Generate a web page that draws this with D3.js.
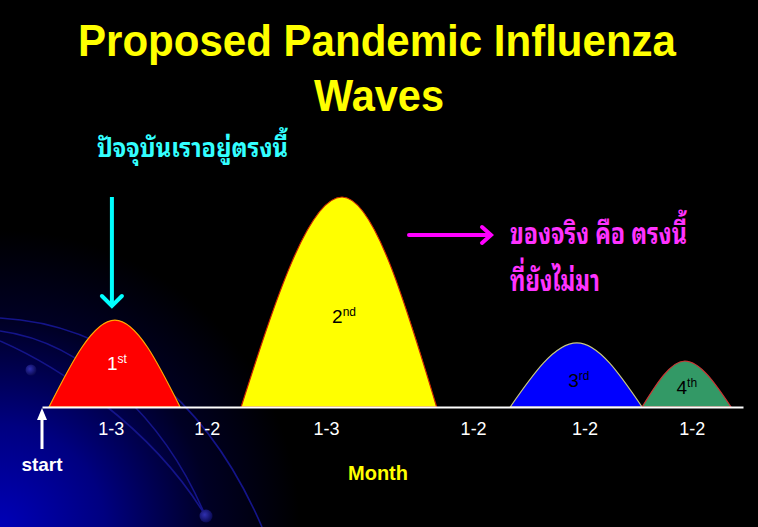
<!DOCTYPE html>
<html>
<head>
<meta charset="utf-8">
<script src="https://cdn.jsdelivr.net/npm/d3@7"></script>
<style>
  html, body { margin: 0; padding: 0; background: #000; }
  svg { display: block; }
</style>
</head>
<body>
<svg id="chart" width="758" height="527"></svg>
<script>
// ---------- data ----------
const waveOrdinals = ["1", "2", "3", "4"];
const waveSuffixes = ["st", "nd", "rd", "th"];
const waveStart  = [1.0, 28.4, 66.8, 85.6];   // timeline units (0-100)
const wavePeak   = [10.4, 42.8, 76.3, 91.7];
const waveEnd    = [19.7, 56.3, 85.6, 98.3];
const waveHeight = [41.4, 100, 30.5, 21.9];   // relative intensity (0-100)
const waveLabelY = [17.6, 40, 9.5, 6.2];

const segmentLabels  = ["1-3", "1-2", "1-3", "1-2", "1-2", "1-2"];
const segmentCenters = [9.8, 23.5, 40.5, 61.5, 77.4, 92.7];

const titleLines = ["Proposed Pandemic Influenza", "Waves"];
const noteNow = "ปัจจุบันเราอยู่ตรงนี้";
const noteReal = ["ของจริง คือ ตรงนี้", "ที่ยังไม่มา"];
const xAxisTitle = "Month";
const startLabel = "start";

// ---------- styles ----------
const waveFill   = ["#ff0000", "#ffff00", "#0000ff", "#339966"];
const waveStroke = ["#ffaa00", "#cc2200", "#c8c880", "#cc3333"];
const waveText   = ["#ffffff", "#000000", "#000000", "#000000"];
const thaiFont = "'Noto Sans Thai Looped', Loma, Garuda, 'Noto Sans Thai', 'Tlwg Typo', 'DejaVu Sans', sans-serif";
const latinFont = "'Liberation Sans', Arial, sans-serif";

const W = 758, H = 527;
const svg = d3.select("#chart");
const defs = svg.append("defs");

// background
const bg = defs.append("radialGradient").attr("id", "bgGrad")
  .attr("gradientUnits", "userSpaceOnUse").attr("cx", 0).attr("cy", 530).attr("r", 300);
bg.append("stop").attr("offset", 0).attr("stop-color", "#0000b8");
bg.append("stop").attr("offset", 0.35).attr("stop-color", "#000080");
bg.append("stop").attr("offset", 0.7).attr("stop-color", "#000024");
bg.append("stop").attr("offset", 1).attr("stop-color", "#000000");
const dotGrad = defs.append("radialGradient").attr("id", "dotGrad").attr("cx", 0.4).attr("cy", 0.4).attr("r", 0.6);
dotGrad.append("stop").attr("offset", 0).attr("stop-color", "#3030b0");
dotGrad.append("stop").attr("offset", 1).attr("stop-color", "#0a0a55");

svg.append("rect").attr("width", W).attr("height", H).attr("fill", "#000");
svg.append("rect").attr("width", W).attr("height", H).attr("fill", "url(#bgGrad)");

// decorative orbits
const orbits = svg.append("g").attr("fill", "none").attr("stroke", "#14148a").attr("stroke-width", 1.6);
orbits.append("path").attr("d", "M0,331 C85,342 165,420 205,515");
orbits.append("path").attr("d", "M0,341 C55,365 150,425 205,515");
orbits.append("path").attr("d", "M0,318 C110,324 205,395 262,527");
svg.append("circle").attr("cx", 31).attr("cy", 370).attr("r", 5.5).attr("fill", "url(#dotGrad)");
svg.append("circle").attr("cx", 206).attr("cy", 516).attr("r", 6.5).attr("fill", "url(#dotGrad)");

// ---------- scales ----------
const x = d3.scaleLinear().domain([0, 100]).range([42, 743]);
const y = d3.scaleLinear().domain([0, 100]).range([407, 197]);

// ---------- title ----------
const title = svg.append("g").attr("font-family", latinFont).attr("font-weight", "bold")
  .attr("font-size", 44).attr("fill", "#ffff00").attr("text-anchor", "middle");
title.append("text").attr("x", 377).attr("y", 56).text(titleLines[0])
  .attr("textLength", 598).attr("lengthAdjust", "spacingAndGlyphs");
title.append("text").attr("x", 379).attr("y", 111).text(titleLines[1])
  .attr("textLength", 130).attr("lengthAdjust", "spacingAndGlyphs");

// ---------- waves ----------
const area = d3.area().x(d => x(d[0])).y0(y(0)).y1(d => y(d[1])).curve(d3.curveMonotoneX);
const waves = waveOrdinals.map((o, i) => ({
  i,
  pts: [[waveStart[i], 0], [wavePeak[i], waveHeight[i]], [waveEnd[i], 0]]
}));
svg.append("g").selectAll("path").data(waves).join("path")
  .attr("d", d => area(d.pts))
  .attr("fill", d => waveFill[d.i])
  .attr("stroke", d => waveStroke[d.i])
  .attr("stroke-width", 1.2);

const labels = svg.append("g").attr("font-family", latinFont).attr("text-anchor", "middle");
waves.forEach(d => {
  const t = labels.append("text")
    .attr("x", x(wavePeak[d.i]) + 2)
    .attr("y", y(waveLabelY[d.i]))
    .attr("fill", waveText[d.i]);
  t.append("tspan").attr("font-size", 19).text(waveOrdinals[d.i]);
  t.append("tspan").attr("font-size", 12).attr("dy", -7).text(waveSuffixes[d.i]);
});

// ---------- axis ----------
const axis = d3.axisBottom(x)
  .tickValues(segmentCenters)
  .tickFormat((d, i) => segmentLabels[i])
  .tickSize(0).tickSizeOuter(0).tickPadding(15);
const gAxis = svg.append("g").attr("transform", `translate(0,${y(0)})`).call(axis);
gAxis.select(".domain").attr("stroke", "#ffffff").attr("stroke-width", 2);
gAxis.selectAll("text").attr("fill", "#ffffff").attr("font-size", 18).attr("font-family", latinFont);

svg.append("text").attr("x", 378).attr("y", 480).attr("text-anchor", "middle")
  .attr("font-family", latinFont).attr("font-weight", "bold").attr("font-size", 20)
  .attr("fill", "#ffff00").text(xAxisTitle);

// start arrow
svg.append("line").attr("x1", x(0)).attr("x2", x(0)).attr("y1", 417).attr("y2", 449)
  .attr("stroke", "#ffffff").attr("stroke-width", 3);
svg.append("path").attr("d", `M${x(0)},${y(0) + 1} L${x(0) - 5},${y(0) + 13} L${x(0) + 5},${y(0) + 13} Z`)
  .attr("fill", "#ffffff");
svg.append("text").attr("x", x(0)).attr("y", 471).attr("text-anchor", "middle")
  .attr("font-family", latinFont).attr("font-weight", "bold").attr("font-size", 19)
  .attr("fill", "#ffffff").text(startLabel);

// ---------- annotations ----------
const cyanX = x(wavePeak[0]) - 3;
svg.append("text").attr("x", 97).attr("y", 157)
  .attr("font-family", thaiFont).attr("font-weight", "bold").attr("font-size", 26)
  .attr("fill", "#33ffff").attr("textLength", 191).attr("lengthAdjust", "spacingAndGlyphs")
  .text(noteNow);
svg.append("line").attr("x1", cyanX).attr("x2", cyanX).attr("y1", 197).attr("y2", 305)
  .attr("stroke", "#00ffff").attr("stroke-width", 4);
svg.append("path").attr("d", `M${cyanX - 10},${296} L${cyanX},${306} L${cyanX + 10},${296}`)
  .attr("fill", "none").attr("stroke", "#00ffff").attr("stroke-width", 4).attr("stroke-linecap", "round");

svg.append("line").attr("x1", 409).attr("x2", 490).attr("y1", 235).attr("y2", 235)
  .attr("stroke", "#ff00ff").attr("stroke-width", 4).attr("stroke-linecap", "round");
svg.append("path").attr("d", "M482,227 L491,235 L482,243")
  .attr("fill", "none").attr("stroke", "#ff00ff").attr("stroke-width", 4).attr("stroke-linecap", "round");

const mag = svg.append("g").attr("font-family", thaiFont).attr("font-weight", "bold")
  .attr("font-size", 30).attr("fill", "#ff33ff");
mag.append("text").attr("x", 510).attr("y", 244).attr("textLength", 177)
  .attr("lengthAdjust", "spacingAndGlyphs").text(noteReal[0]);
mag.append("text").attr("x", 510).attr("y", 291).attr("textLength", 90)
  .attr("lengthAdjust", "spacingAndGlyphs").text(noteReal[1]);
</script>
</body>
</html>
